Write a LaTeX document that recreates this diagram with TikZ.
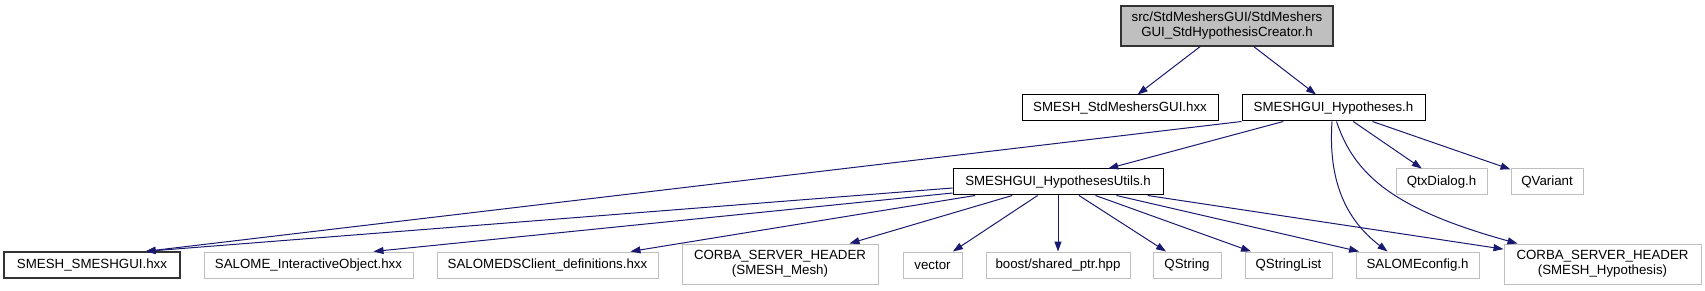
\documentclass[tikz,border=0pt]{standalone}
\usepackage{fontspec}
\setmainfont{Liberation Sans}
\usepackage{xcolor}
\usepackage{tikz}
\usetikzlibrary{arrows.meta}
\definecolor{edgeblue}{RGB}{25,25,112}
\definecolor{boxgray}{RGB}{191,191,191}
\tikzset{
  file/.style={draw=black,line width=1pt,fill=white,inner sep=0pt,
               align=center,minimum height=26pt},
  extfile/.style={file,draw=boxgray},
  dep/.style={edgeblue,line width=1pt,-{Triangle[length=10pt,width=7pt]}}
}

\begin{document}
\begin{tikzpicture}[x=1pt,y=-1pt,font=\fontsize{13.3}{15}\selectfont]
\useasboundingbox (0,0) rectangle (1705,291);
% top rows
\node[file,fill=boxgray,line width=1.3pt,draw=black!80,minimum width=212pt,minimum height=40pt]
  (root) at (1227,26) {src/StdMeshersGUI/StdMeshers\\GUI\_StdHypothesisCreator.h};
\node[file,minimum width=196pt] (stdmesh) at (1120,108) {SMESH\_StdMeshersGUI.hxx};
\node[file,minimum width=183pt] (hyp) at (1333.5,108) {SMESHGUI\_Hypotheses.h};
\node[file,minimum width=210pt] (utils) at (1058,182) {SMESHGUI\_HypothesesUtils.h};
\node[extfile,minimum width=91pt] (qtx) at (1441.5,182) {QtxDialog.h};
\node[extfile,minimum width=72pt] (qvar) at (1547,182) {QVariant};
% bottom row
\node[file,line width=1.3pt,draw=black!80,minimum width=176pt] (smeshgui) at (92,265) {SMESH\_SMESHGUI.hxx};
\node[extfile,minimum width=209pt] (salint) at (308.5,265) {SALOME\_InteractiveObject.hxx};
\node[extfile,minimum width=221pt] (salds) at (547.5,265) {SALOMEDSClient\_definitions.hxx};
\node[extfile,minimum width=196pt,minimum height=40pt] (corbamesh) at (780,264) {CORBA\_SERVER\_HEADER\\(SMESH\_Mesh)};
\node[extfile,minimum width=59pt] (vector) at (932.5,265) {vector};
\node[extfile,minimum width=144pt] (boost) at (1058,265) {boost/shared\_ptr.hpp};
\node[extfile,minimum width=68pt] (qstr) at (1187,265) {QString};
\node[extfile,minimum width=87pt] (qstrlist) at (1288.5,265) {QStringList};
\node[extfile,minimum width=123pt] (salcfg) at (1417.5,265) {SALOMEconfig.h};
\node[extfile,minimum width=197pt,minimum height=40pt] (corbahyp) at (1602.5,264) {CORBA\_SERVER\_HEADER\\(SMESH\_Hypothesis)};
% includes of the root file
\draw[dep] (root) -- (stdmesh);
\draw[dep] (root) -- (hyp);
% includes of SMESHGUI_Hypotheses.h
\draw[dep] (hyp.south west) -- ([xshift=-35pt]smeshgui.north east);
\draw[dep] (hyp) -- (utils);
\draw[dep] ([xshift=-1.5pt]hyp.south) .. controls +(-4,59) and +(-42,-32) .. ([xshift=-30pt]salcfg.north);
\draw[dep] ([xshift=3pt]hyp.south) .. controls +(18,54) and +(-123,-34) .. ([xshift=14pt]corbahyp.north west);
\draw[dep] (hyp) -- (qtx);
\draw[dep] (hyp) -- (qvar);
% includes of SMESHGUI_HypothesesUtils.h
\draw[dep] ([yshift=-6pt]utils.west) -- ([xshift=-35pt]smeshgui.north east);
\draw[dep] ([yshift=-11pt]utils.west) -- ([xshift=-40pt]salint.north east);
\foreach \t in {salds,corbamesh,vector,boost,qstr,qstrlist,salcfg,corbahyp}
  \draw[dep] (utils) -- (\t);
\end{tikzpicture}
\end{document}
